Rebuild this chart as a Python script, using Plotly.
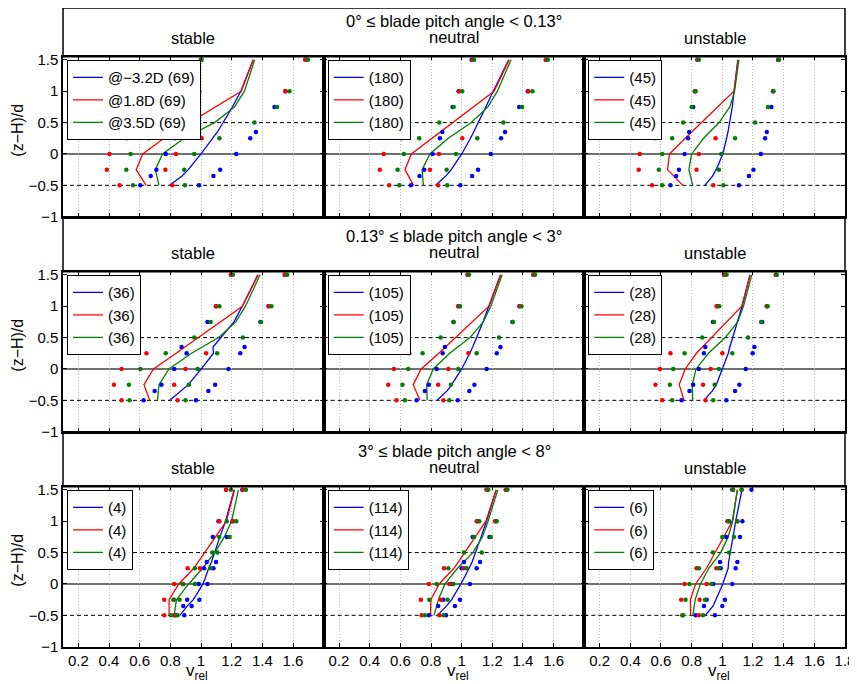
import plotly.graph_objects as go

# ---------------- data ----------------
HEIGHT_BLUE = [-0.5, -0.35, -0.25, 0.0, 0.25, 0.35, 0.75, 1.0, 1.5]
HEIGHT_RED = [-0.5, -0.25, 0.0, 0.25, 1.0, 1.5]
HEIGHT_GREEN = [-0.5, -0.25, 0.0, 0.25, 0.5, 0.75, 1.0, 1.5]

ROW_TITLES = ["0° ≤ blade pitch angle < 0.13°",
              "0.13° ≤ blade pitch angle < 3°",
              "3° ≤ blade pitch angle < 8°"]
COL_TITLES = ["stable", "neutral", "unstable"]
POSITIONS = ["@−3.2D", "@1.8D", "@3.5D"]
COUNTS = [[69, 180, 45], [36, 105, 28], [4, 114, 6]]
X_TICKS = [0.2, 0.4, 0.6, 0.8, 1.0, 1.2, 1.4, 1.6, 1.8]
Y_TICKS = [-1, -0.5, 0, 0.5, 1, 1.5]
X_RANGE = [0.1, 1.8]
Y_RANGE = [-1, 1.55]

# row 1: 0 <= pitch < 0.13
r1_stable_blue_mean = [0.795, 0.876, 0.917, 1.000, 1.075, 1.107, 1.205, 1.260, 1.340]
r1_stable_blue_lo = [0.604, 0.672, 0.709, 0.770, 0.830, 0.856, 0.932, 0.970, 1.000]
r1_stable_blue_hi = [0.987, 1.081, 1.125, 1.230, 1.321, 1.358, 1.479, 1.550, 1.680]
r1_stable_red_mean = [0.642, 0.577, 0.620, 0.758, 1.262, 1.341]
r1_stable_red_lo = [0.469, 0.386, 0.403, 0.513, 0.972, 1.000]
r1_stable_red_hi = [0.814, 0.768, 0.836, 1.004, 1.551, 1.682]
r1_stable_green_mean = [0.726, 0.702, 0.749, 0.890, 1.089, 1.219, 1.283, 1.350]
r1_stable_green_lo = [0.556, 0.513, 0.541, 0.659, 0.830, 0.941, 0.989, 1.004]
r1_stable_green_hi = [0.895, 0.891, 0.956, 1.120, 1.348, 1.496, 1.577, 1.697]

r1_neutral_blue_mean = [0.830, 0.897, 0.932, 1.000, 1.058, 1.079, 1.158, 1.206, 1.307]
r1_neutral_blue_lo = [0.669, 0.725, 0.756, 0.810, 0.858, 0.874, 0.941, 0.980, 1.065]
r1_neutral_blue_hi = [0.991, 1.068, 1.107, 1.190, 1.257, 1.283, 1.375, 1.431, 1.549]
r1_neutral_red_mean = [0.687, 0.630, 0.672, 0.806, 1.211, 1.310]
r1_neutral_red_lo = [0.527, 0.466, 0.492, 0.608, 0.985, 1.070]
r1_neutral_red_hi = [0.847, 0.793, 0.852, 1.004, 1.436, 1.549]
r1_neutral_green_mean = [0.750, 0.742, 0.793, 0.913, 1.063, 1.171, 1.233, 1.322]
r1_neutral_green_lo = [0.593, 0.582, 0.623, 0.723, 0.854, 0.948, 1.004, 1.081]
r1_neutral_green_hi = [0.906, 0.902, 0.963, 1.102, 1.272, 1.394, 1.462, 1.562]

r1_unstable_blue_mean = [0.886, 0.937, 0.960, 1.003, 1.028, 1.037, 1.065, 1.076, 1.101]
r1_unstable_blue_lo = [0.662, 0.699, 0.717, 0.754, 0.776, 0.784, 0.810, 0.821, 0.837]
r1_unstable_blue_hi = [1.109, 1.174, 1.203, 1.251, 1.279, 1.290, 1.320, 1.331, 1.364]
r1_unstable_red_mean = [0.742, 0.643, 0.655, 0.758, 1.076, 1.103]
r1_unstable_red_lo = [0.542, 0.455, 0.462, 0.560, 0.821, 0.841]
r1_unstable_red_hi = [0.941, 0.832, 0.847, 0.956, 1.331, 1.366]
r1_unstable_green_mean = [0.807, 0.782, 0.800, 0.878, 0.979, 1.049, 1.080, 1.108]
r1_unstable_green_lo = [0.608, 0.586, 0.608, 0.673, 0.745, 0.800, 0.826, 0.847]
r1_unstable_green_hi = [1.007, 0.978, 0.993, 1.083, 1.214, 1.298, 1.333, 1.370]

# row 2: 0.13 <= pitch < 3
r2_stable_blue_mean = [0.797, 0.873, 0.917, 1.002, 1.081, 1.078, 1.215, 1.269, 1.371]
r2_stable_blue_lo = [0.626, 0.698, 0.742, 0.825, 0.906, 0.873, 1.042, 1.098, 1.195]
r2_stable_blue_hi = [0.967, 1.048, 1.092, 1.179, 1.256, 1.284, 1.387, 1.440, 1.546]
r2_stable_red_mean = [0.665, 0.628, 0.690, 0.838, 1.270, 1.371]
r2_stable_red_lo = [0.482, 0.432, 0.482, 0.644, 1.098, 1.195]
r2_stable_red_hi = [0.847, 0.825, 0.899, 1.033, 1.442, 1.546]
r2_stable_green_mean = [0.716, 0.726, 0.791, 0.938, 1.115, 1.227, 1.290, 1.385]
r2_stable_green_lo = [0.534, 0.530, 0.604, 0.770, 0.956, 1.063, 1.120, 1.208]
r2_stable_green_hi = [0.899, 0.921, 0.978, 1.105, 1.273, 1.391, 1.459, 1.562]

r2_neutral_blue_mean = [0.840, 0.905, 0.935, 1.000, 1.053, 1.072, 1.139, 1.178, 1.254]
r2_neutral_blue_lo = [0.706, 0.760, 0.786, 0.837, 0.876, 0.891, 0.946, 0.978, 1.039]
r2_neutral_blue_hi = [0.974, 1.050, 1.083, 1.163, 1.229, 1.253, 1.331, 1.377, 1.468]
r2_neutral_red_mean = [0.728, 0.684, 0.736, 0.851, 1.178, 1.254]
r2_neutral_red_lo = [0.575, 0.521, 0.558, 0.658, 0.978, 1.039]
r2_neutral_red_hi = [0.880, 0.847, 0.913, 1.044, 1.377, 1.468]
r2_neutral_green_mean = [0.775, 0.772, 0.815, 0.922, 1.054, 1.141, 1.190, 1.264]
r2_neutral_green_lo = [0.630, 0.614, 0.651, 0.745, 0.863, 0.948, 0.989, 1.048]
r2_neutral_green_hi = [0.919, 0.930, 0.978, 1.098, 1.244, 1.333, 1.390, 1.479]

r2_unstable_blue_mean = [0.880, 0.935, 0.961, 1.000, 1.039, 1.049, 1.100, 1.129, 1.180]
r2_unstable_blue_lo = [0.734, 0.786, 0.810, 0.847, 0.880, 0.889, 0.939, 0.967, 1.011]
r2_unstable_blue_hi = [1.026, 1.083, 1.111, 1.153, 1.198, 1.209, 1.261, 1.290, 1.349]
r2_unstable_red_mean = [0.750, 0.719, 0.758, 0.831, 1.127, 1.182]
r2_unstable_red_lo = [0.608, 0.564, 0.593, 0.662, 0.963, 1.015]
r2_unstable_red_hi = [0.891, 0.874, 0.924, 1.000, 1.290, 1.349]
r2_unstable_green_mean = [0.807, 0.804, 0.829, 0.910, 1.019, 1.100, 1.138, 1.192]
r2_unstable_green_lo = [0.673, 0.658, 0.680, 0.754, 0.869, 0.946, 0.980, 1.028]
r2_unstable_green_hi = [0.941, 0.950, 0.978, 1.065, 1.168, 1.253, 1.296, 1.355]

# row 3: 3 <= pitch < 8
r3_stable_blue_mean = [0.862, 0.911, 0.950, 1.013, 1.050, 1.068, 1.123, 1.160, 1.216]
r3_stable_blue_lo = [0.834, 0.884, 0.910, 0.985, 1.020, 1.037, 1.077, 1.114, 1.164]
r3_stable_blue_hi = [0.891, 0.939, 0.989, 1.042, 1.081, 1.098, 1.168, 1.205, 1.269]
r3_stable_red_mean = [0.792, 0.792, 0.855, 0.953, 1.165, 1.219]
r3_stable_red_lo = [0.760, 0.760, 0.825, 0.913, 1.120, 1.164]
r3_stable_red_hi = [0.823, 0.823, 0.884, 0.993, 1.210, 1.273]
r3_stable_green_mean = [0.825, 0.840, 0.920, 1.010, 1.090, 1.152, 1.199, 1.244]
r3_stable_green_lo = [0.803, 0.820, 0.880, 0.960, 1.074, 1.118, 1.168, 1.195]
r3_stable_green_hi = [0.847, 0.860, 0.960, 1.060, 1.107, 1.186, 1.230, 1.293]

r3_neutral_blue_mean = [0.842, 0.902, 0.935, 0.995, 1.049, 1.068, 1.127, 1.162, 1.225]
r3_neutral_blue_lo = [0.786, 0.847, 0.880, 0.935, 1.000, 1.015, 1.072, 1.102, 1.163]
r3_neutral_blue_hi = [0.898, 0.956, 0.989, 1.054, 1.098, 1.120, 1.181, 1.222, 1.288]
r3_neutral_red_mean = [0.797, 0.799, 0.853, 0.950, 1.158, 1.225]
r3_neutral_red_lo = [0.739, 0.734, 0.786, 0.885, 1.098, 1.163]
r3_neutral_red_hi = [0.854, 0.863, 0.919, 1.015, 1.218, 1.288]
r3_neutral_green_mean = [0.820, 0.848, 0.891, 0.973, 1.073, 1.135, 1.172, 1.236]
r3_neutral_green_lo = [0.760, 0.789, 0.837, 0.913, 1.015, 1.081, 1.115, 1.174]
r3_neutral_green_hi = [0.880, 0.908, 0.946, 1.033, 1.131, 1.190, 1.229, 1.298]

r3_unstable_blue_mean = [0.889, 0.940, 0.958, 1.003, 1.038, 1.041, 1.070, 1.087, 1.128]
r3_unstable_blue_lo = [0.826, 0.880, 0.898, 0.941, 0.989, 0.985, 1.026, 1.044, 1.065]
r3_unstable_blue_hi = [0.952, 1.000, 1.017, 1.065, 1.087, 1.098, 1.115, 1.131, 1.190]
r3_unstable_red_mean = [0.793, 0.792, 0.826, 0.897, 1.065, 1.098]
r3_unstable_red_lo = [0.739, 0.732, 0.754, 0.832, 1.033, 1.070]
r3_unstable_red_hi = [0.847, 0.852, 0.898, 0.961, 1.098, 1.126]
r3_unstable_green_mean = [0.808, 0.823, 0.857, 0.912, 0.990, 1.038, 1.068, 1.098]
r3_unstable_green_lo = [0.743, 0.760, 0.786, 0.847, 0.939, 1.000, 1.039, 1.070]
r3_unstable_green_hi = [0.874, 0.887, 0.928, 0.978, 1.044, 1.076, 1.098, 1.126]

# ---------------- figure construction ----------------
data_table = globals()
COLORS = {"blue": "rgb(0,0,255)", "red": "rgb(255,0,0)", "green": "rgb(0,128,0)"}
HEIGHTS = {"blue": HEIGHT_BLUE, "red": HEIGHT_RED, "green": HEIGHT_GREEN}
SERIES = ["blue", "red", "green"]

# the page body has an 8 px margin; page coordinates below are converted
OFF = 8
W, H = 857 - OFF, 684 - OFF
PAPER_L, PAPER_R, PAPER_T, PAPER_B = 63.0, 845.0, 8.0, 647.0   # page px
ML, MR, MT, MB = PAPER_L - OFF, W - (PAPER_R - OFF), PAPER_T - OFF, H - (PAPER_B - OFF)
PW, PH = PAPER_R - PAPER_L, PAPER_B - PAPER_T
FONT = "Liberation Sans, Arial, Helvetica, sans-serif"
PLOT_TOPS = [56.7, 271.7, 486.7]
PLOT_H = 160.0
COL_EDGES = [63.0, 323.7, 584.3, 845.0]


def py(p):
    return (PAPER_B - p) / PH


def px(p):
    return (p - PAPER_L) / PW


fig = go.Figure()
shapes = []
annotations = []
layout = {}

for r in range(3):
    for c in range(3):
        k = r * 3 + c + 1
        xa = "x" if k == 1 else f"x{k}"
        ya = "y" if k == 1 else f"y{k}"
        lg = "legend" if k == 1 else f"legend{k}"
        key = f"r{r + 1}_{COL_TITLES[c]}"
        for si, s in enumerate(SERIES):
            label = (f"{POSITIONS[si]} ({COUNTS[r][c]})" if (r == 0 and c == 0)
                     else f"({COUNTS[r][c]})")
            fig.add_trace(go.Scatter(
                x=data_table[f"{key}_{s}_mean"], y=HEIGHTS[s], mode="lines",
                line=dict(color=COLORS[s], width=1.3), name=label,
                legend=lg, xaxis=xa, yaxis=ya, hoverinfo="skip"))
        for s in SERIES:
            for part in ("lo", "hi"):
                fig.add_trace(go.Scatter(
                    x=data_table[f"{key}_{s}_{part}"], y=HEIGHTS[s], mode="markers",
                    marker=dict(color=COLORS[s], size=4.5, line=dict(width=0)),
                    showlegend=False, xaxis=xa, yaxis=ya, hoverinfo="skip"))

        top = PLOT_TOPS[r]
        layout["xaxis" if k == 1 else f"xaxis{k}"] = dict(
            domain=[px(COL_EDGES[c]), px(COL_EDGES[c + 1])], anchor=ya, range=X_RANGE,
            tickvals=X_TICKS if c == 2 else X_TICKS[:-1],
            ticks="inside", ticklen=4, tickwidth=1, tickcolor="black",
            showline=True, linecolor="black", linewidth=1.5, mirror="ticks",
            showgrid=True, gridcolor="#b8b8b8", gridwidth=1, griddash="1px,2px",
            zeroline=False, showticklabels=(r == 2), automargin=False,
            tickfont=dict(size=15, color="black", family=FONT))
        layout["yaxis" if k == 1 else f"yaxis{k}"] = dict(
            domain=[py(top + PLOT_H), py(top)], anchor=xa, range=Y_RANGE,
            tickvals=Y_TICKS, ticks="inside", ticklen=4, tickwidth=1,
            tickcolor="black", showline=True, linecolor="black", linewidth=1.5,
            mirror="ticks", showgrid=False, zeroline=False, automargin=False,
            showticklabels=(c == 0),
            tickfont=dict(size=15, color="black", family=FONT))
        layout[lg] = dict(
            x=px(COL_EDGES[c] + 4), y=py(top + 3.5), xanchor="left", yanchor="top",
            bgcolor="white", bordercolor="black", borderwidth=1,
            font=dict(size=15, color="black", family=FONT),
            itemwidth=30, tracegroupgap=0, traceorder="normal")

        # reference lines at (z-H)/d = 0 and +-0.5
        shapes.append(dict(type="line", xref=f"{xa} domain", yref=ya, x0=0, x1=1,
                           y0=0, y1=0, line=dict(color="#707070", width=2), layer="below"))
        for yv in (-0.5, 0.5):
            shapes.append(dict(type="line", xref=f"{xa} domain", yref=ya, x0=0, x1=1,
                               y0=yv, y1=yv, line=dict(color="black", width=1, dash="4px,3px"),
                               layer="below"))

# header boxes and texts
for r in range(3):
    top = PLOT_TOPS[r]
    htop = PAPER_T if r == 0 else PLOT_TOPS[r] - 55.0
    shapes.append(dict(type="rect", xref="paper", yref="paper", x0=0, x1=1,
                       y0=py(top), y1=py(htop), line=dict(color="black", width=1.5)))
    annotations.append(dict(text=ROW_TITLES[r], xref="paper", yref="paper",
                            x=px((COL_EDGES[1] + COL_EDGES[2]) / 2), y=py(top - 35.5),
                            xanchor="center", yanchor="middle", showarrow=False,
                            font=dict(size=16.5, color="black", family=FONT)))
    for c in range(3):
        cx = (COL_EDGES[c] + COL_EDGES[c + 1]) / 2
        dy = 20.0 if c == 1 else 18.4
        annotations.append(dict(text=COL_TITLES[c], xref="paper", yref="paper",
                                x=px(cx), y=py(top - dy), xanchor="center", yanchor="middle",
                                showarrow=False, font=dict(size=16.5, color="black", family=FONT)))
    annotations.append(dict(text="(z−H)/d", xref="paper", yref="paper", textangle=-90,
                            x=px(18), y=py(top + PLOT_H / 2 - 6), xanchor="center",
                            yanchor="middle", showarrow=False,
                            font=dict(size=16, color="black", family=FONT)))

for c in range(3):
    cx = (COL_EDGES[c] + COL_EDGES[c + 1]) / 2
    annotations.append(dict(text="v<sub>rel</sub>", xref="paper", yref="paper",
                            x=px(cx + 4), y=py(672), xanchor="center", yanchor="middle",
                            showarrow=False, font=dict(size=17, color="black", family=FONT)))

fig.update_layout(
    template="none",
    width=W, height=H, margin=dict(l=ML, r=MR, t=MT, b=MB, pad=0, autoexpand=False),
    paper_bgcolor="white", plot_bgcolor="white",
    font=dict(family=FONT, color="black"),
    shapes=shapes, annotations=annotations, **layout)

fig.write_html("out.html")
